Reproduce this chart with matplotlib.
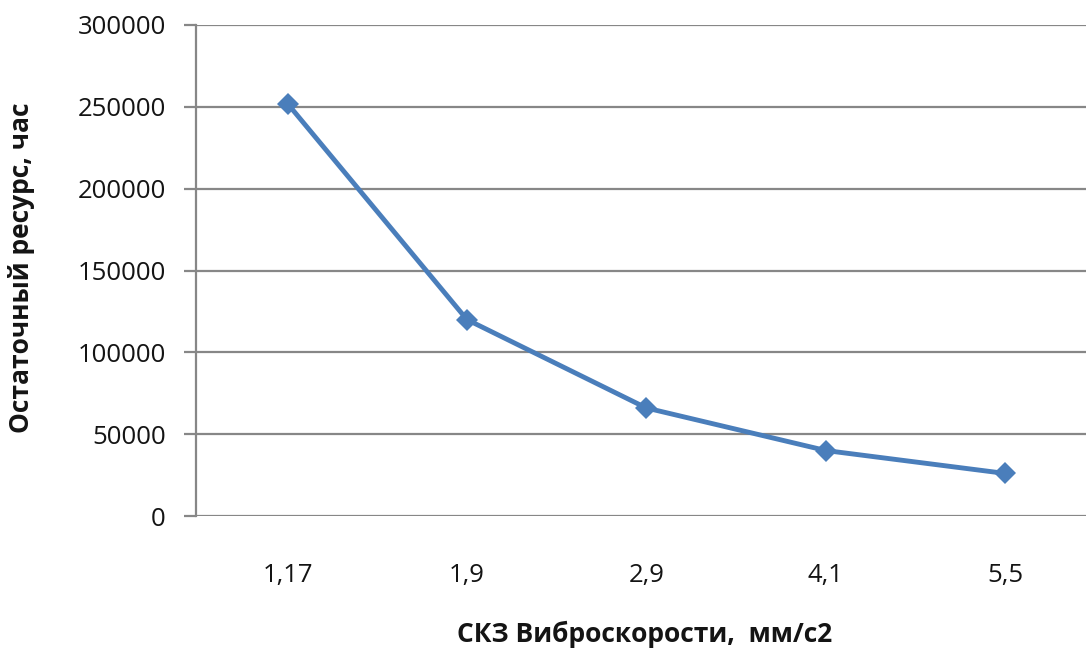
import matplotlib
matplotlib.use("Agg")
import matplotlib.pyplot as plt

# --- DATA ---
categories = ["1,17", "1,9", "2,9", "4,1", "5,5"]
resource_hours = [252000, 120000, 66000, 40000, 26000]
y_ticks = [0, 50000, 100000, 150000, 200000, 250000, 300000]

# --- STYLE ---
LINE_COLOR = "#4A7EBB"
GRID_COLOR = "#878787"
TEXT_COLOR = "#141414"
FONT = ["Open Sans", "DejaVu Sans"]

plt.rcParams["font.family"] = FONT

fig = plt.figure(figsize=(10.86, 6.48), dpi=100, facecolor="white")
ax = fig.add_axes([196 / 1086, 132 / 648, 890 / 1086, 491 / 648])

x = list(range(len(categories)))
ax.plot(x, resource_hours, color=LINE_COLOR, linewidth=3.5,
        marker="D", markersize=11, markeredgewidth=0, zorder=3)

ax.set_xlim(-0.51, 4.45)
ax.set_ylim(0, 300000)
ax.set_yticks(y_ticks)
ax.set_yticklabels([str(t) for t in y_ticks])
ax.set_xticks(x)
ax.set_xticklabels(categories)

ax.grid(axis="y", color=GRID_COLOR, linewidth=1.6)
ax.set_axisbelow(True)

for side in ["top", "right", "bottom"]:
    ax.spines[side].set_visible(False)
ax.spines["left"].set_color(GRID_COLOR)
ax.spines["left"].set_linewidth(1.6)

ax.tick_params(axis="y", direction="out", length=8.6, width=1.6,
               color=GRID_COLOR, pad=13, labelsize=18.5, labelcolor=TEXT_COLOR)
ax.tick_params(axis="x", length=0, pad=34, labelsize=18.5, labelcolor=TEXT_COLOR)

fig.text(645 / 1086, 1 - 634 / 648, "СКЗ Виброскорости,  мм/с2",
         ha="center", va="center", fontsize=19, fontweight="bold", color=TEXT_COLOR)
fig.text(22 / 1086, 1 - 268 / 648, "Остаточный ресурс, час", rotation=90,
         ha="center", va="center", fontsize=19, fontweight="bold", color=TEXT_COLOR)

fig.savefig("out.png", dpi=100, facecolor="white")
